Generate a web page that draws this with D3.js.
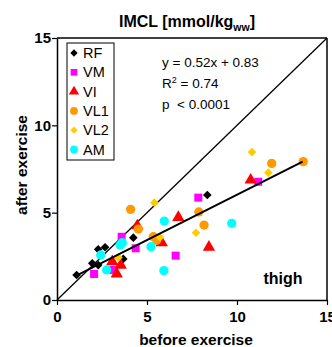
<!DOCTYPE html>
<html>
<head>
<meta charset="utf-8">
<script src="https://cdn.jsdelivr.net/npm/d3@7"></script>
<style>
body { margin: 0; background: #fff; }
text { font-family: "Liberation Sans", Arial, sans-serif; }
</style>
</head>
<body>
<script>
// muscle groups and their before/after values
var groups = ["RF", "VM", "VI", "VL1", "VL2", "AM"];
var colors = ["#000000", "#ff00ff", "#ff0000", "#ff9900", "#ffcc00", "#00ffff"];
var shapes = ["diamond", "square", "triangle", "circle", "diamond", "circle"];

var rfX = [1.09, 1.96, 2.29, 2.29, 2.67, 3.68, 4.24, 8.35];
var rfY = [1.43, 2.10, 2.00, 2.90, 3.02, 2.35, 3.57, 6.01];
var vmX = [2.06, 3.13, 3.59, 4.37, 6.59, 7.85, 11.18];
var vmY = [1.49, 1.72, 3.62, 2.96, 2.54, 5.86, 6.77];
var viX = [3.07, 3.54, 3.32, 5.82, 6.74, 4.46, 10.76, 8.44];
var viY = [2.19, 2.00, 1.49, 3.28, 4.73, 4.25, 6.87, 3.02];
var vl1X = [4.09, 4.52, 5.35, 5.54, 7.88, 8.17, 11.93, 13.68];
var vl1Y = [5.19, 4.06, 3.62, 3.43, 5.04, 4.29, 7.82, 7.92];
var vl2X = [5.41, 5.72, 3.41, 7.72, 11.74, 10.83];
var vl2Y = [5.57, 3.59, 2.44, 3.85, 7.29, 8.47];
var amX = [2.43, 2.76, 3.50, 3.63, 5.22, 5.96, 5.94, 9.71];
var amY = [2.58, 1.72, 3.15, 3.28, 3.05, 4.52, 1.68, 4.39];

var xs = [rfX, vmX, viX, vl1X, vl2X, amX];
var ys = [rfY, vmY, viY, vl1Y, vl2Y, amY];

var ticks = [0, 5, 10, 15];
var slope = 0.52, icpt = 0.83;
var fitFrom = 1.05, fitTo = 13.65;

var svg = d3.select("body").append("svg")
    .attr("width", 332)
    .attr("height", 347);

var x = d3.scaleLinear().domain([0, 15]).range([57, 327]);
var y = d3.scaleLinear().domain([0, 15]).range([300, 38]);

// frame top and right
svg.append("line").attr("x1", 57).attr("x2", 327).attr("y1", 38).attr("y2", 38)
    .attr("stroke", "#000").attr("stroke-width", 1.5);
svg.append("line").attr("x1", 327).attr("x2", 327).attr("y1", 38).attr("y2", 300)
    .attr("stroke", "#000").attr("stroke-width", 1.5);

var xAxis = svg.append("g")
    .attr("transform", "translate(0,300)")
    .call(d3.axisBottom(x).tickValues(ticks).tickSize(5).tickPadding(3).tickSizeOuter(0));
var yAxis = svg.append("g")
    .attr("transform", "translate(57,0)")
    .call(d3.axisLeft(y).tickValues(ticks).tickSize(5).tickPadding(1).tickSizeOuter(0));
[xAxis, yAxis].forEach(function(a){
  a.select(".domain").attr("stroke-width", 1.5);
  a.selectAll(".tick line").attr("stroke-width", 1.2);
  a.selectAll("text").attr("font-size", 15).attr("font-weight", "bold")
    .attr("font-family", "Liberation Sans, Arial, sans-serif").attr("fill", "#000");
});
xAxis.selectAll("text").attr("dy", "0.95em");

// identity line
svg.append("line")
    .attr("x1", x(0)).attr("y1", y(0)).attr("x2", x(15)).attr("y2", y(15))
    .attr("stroke", "#000").attr("stroke-width", 1.3);

function symFor(s, k){
  k = k || 1;
  if (s == "diamond") return d3.symbol().type(d3.symbolDiamond2).size(48 * k);
  if (s == "square") return d3.symbol().type(d3.symbolSquare).size(64 * k);
  if (s == "triangle") return d3.symbol().type(d3.symbolTriangle).size(66 * k);
  return d3.symbol().type(d3.symbolCircle).size(68 * k);
}

var pts = svg.append("g");
for (var g = 0; g < groups.length; g++){
  pts.selectAll(".p" + g)
    .data(d3.range(xs[g].length))
    .enter().append("path")
      .attr("class", "p" + g)
      .attr("d", symFor(shapes[g])())
      .attr("transform", function(i){ return "translate(" + x(xs[g][i]) + "," + y(ys[g][i]) + ")"; })
      .attr("fill", colors[g]);
}

// regression line
svg.append("line")
    .attr("x1", x(fitFrom)).attr("y1", y(slope * fitFrom + icpt))
    .attr("x2", x(fitTo)).attr("y2", y(slope * fitTo + icpt))
    .attr("stroke", "#000").attr("stroke-width", 2);

// legend
var leg = svg.append("g");
leg.append("rect").attr("x", 67).attr("y", 43).attr("width", 47).attr("height", 117)
    .attr("fill", "#fff").attr("stroke", "#000").attr("stroke-width", 1);
groups.forEach(function(name, i){
  var ly = 53 + i * 19.3;
  leg.append("path").attr("d", symFor(shapes[i], 0.7)()).attr("fill", colors[i])
     .attr("transform", "translate(74," + ly + ")");
  leg.append("text").attr("x", 83).attr("y", ly + 5).attr("font-size", 14.5)
     .text(name);
});

// stats
var stats = svg.append("g").attr("font-size", 13.5);
stats.append("text").attr("x", 162).attr("y", 67).text("y = 0.52x + 0.83");
var r2 = stats.append("text").attr("x", 162).attr("y", 88);
r2.append("tspan").text("R");
r2.append("tspan").attr("font-size", 9).attr("dy", -5).text("2");
r2.append("tspan").attr("dy", 5).text(" = 0.74");
stats.append("text").attr("x", 162).attr("y", 109).attr("xml:space", "preserve").text("p  < 0.0001");

svg.append("text").attr("x", 283).attr("y", 284).attr("text-anchor", "middle")
    .attr("font-size", 16).attr("font-weight", "bold").text("thigh");

// title
var title = svg.append("text").attr("x", 187).attr("y", 27).attr("text-anchor", "middle")
    .attr("font-size", 16).attr("font-weight", "bold");
title.append("tspan").text("IMCL [mmol/kg");
title.append("tspan").attr("font-size", 10.5).attr("dy", 4).text("ww");
title.append("tspan").attr("dy", -4).text("]");

svg.append("text").attr("x", 196).attr("y", 345).attr("text-anchor", "middle")
    .attr("font-size", 15.5).attr("font-weight", "bold").text("before exercise");
svg.append("text").attr("transform", "translate(27,165) rotate(-90)").attr("text-anchor", "middle")
    .attr("font-size", 15.5).attr("font-weight", "bold").text("after exercise");
</script>
</body>
</html>
